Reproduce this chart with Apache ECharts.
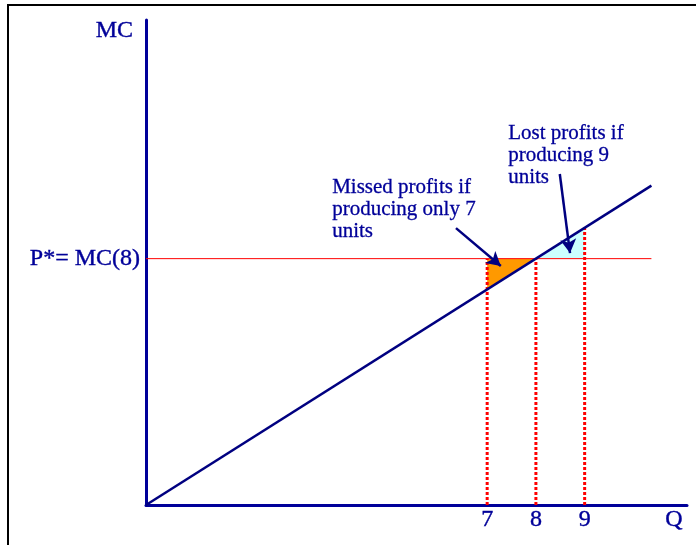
<!DOCTYPE html>
<html>
<head>
<meta charset="utf-8">
<script src="https://cdn.jsdelivr.net/npm/echarts@6/dist/echarts.min.js"></script>
<style>
  html, body { margin: 0; padding: 0; background: #fff; }
  #chart { width: 696px; height: 545px; }
</style>
</head>
<body>
<div id="chart"></div>
<script>
// Data
const qTicks = [7, 8, 9]
const pStar = 8
const mcLine = [[0, 0], [10.37, 10.37]]
const priceLine = [[0, pStar], [10.37, pStar]]
// drop lines: [q, top value]
const drops = [[7, 8], [8, 8], [9, 9]]
// triangles: x1,y1,x2,y2,x3,y3
const missedTri = [7, 8, 8, 8, 7, 7]
const lostTri = [8, 8, 9, 8, 9, 9]
// arrows: [from, to]
const arrows = [
  [[6.36, 8.99], [7.28, 7.76]],
  [[8.49, 10.75], [8.7, 8.18]],
]

const navy = "#000080"
const blue = "#000099"
const serif = "'Liberation Serif', 'DejaVu Serif', serif"

// 文字略微加粗
const thick = { textBorderColor: blue, textBorderWidth: 0.4 }

const triangle = (tri, fill) => ({
  type: "custom",
  data: [tri],
  renderItem: (params, api) => {
    const pts = [0, 2, 4].map((i) => api.coord([api.value(i), api.value(i + 1)]))
    return { type: "polygon", shape: { points: pts }, style: { fill: fill } }
  },
  silent: true,
})

const chart = echarts.init(document.getElementById("chart"))

const option = {
  animation: false,
  grid: { left: 146, right: 9, top: 20, bottom: 40 },
  xAxis: {
    type: "value",
    min: 0,
    max: 11.1,
    interval: 1,
    name: "Q",
    nameLocation: "end",
    nameGap: -13,
    nameTextStyle: {
      fontFamily: serif, fontSize: 24, color: blue, ...thick,
      align: "center", verticalAlign: "top", padding: [3, 0, 0, 0],
    },
    splitLine: { show: false },
    axisTick: { show: false },
    axisLine: { onZero: false, lineStyle: { color: blue, width: 3 } },
    axisLabel: {
      margin: 3,
      fontFamily: serif, fontSize: 24, color: blue, ...thick,
      formatter: (v) => (qTicks.includes(v) ? String(v) : ""),
    },
  },
  yAxis: {
    type: "value",
    min: 0,
    max: 15.75,
    interval: 1,
    name: "MC",
    nameLocation: "end",
    nameGap: -11,
    nameTextStyle: {
      fontFamily: serif, fontSize: 24, color: blue, ...thick,
      align: "right", verticalAlign: "middle", padding: [0, 13, 0, 0],
    },
    splitLine: { show: false },
    axisTick: { show: false },
    axisLine: { onZero: false, lineStyle: { color: blue, width: 3 } },
    axisLabel: {
      margin: 6,
      fontFamily: serif, fontSize: 24, color: blue, ...thick,
      formatter: (v) => (v === pStar ? "P*= MC(8)" : ""),
    },
  },
  graphic: [
    { type: "line", shape: { x1: 7, y1: 5, x2: 696, y2: 5 }, style: { stroke: "#000", lineWidth: 2 } },
    { type: "line", shape: { x1: 8, y1: 5, x2: 8, y2: 545 }, style: { stroke: "#000", lineWidth: 2 } },
    {
      type: "text", left: 332, top: 176,
      style: {
        text: "Missed profits if\nproducing only 7\nunits",
        font: "21px " + serif, fill: blue, lineHeight: 22,
        stroke: blue, lineWidth: 0.3,
      },
    },
    {
      type: "text", left: 508, top: 122,
      style: {
        text: "Lost profits if\nproducing 9\nunits",
        font: "21px " + serif, fill: blue, lineHeight: 22,
        stroke: blue, lineWidth: 0.3,
      },
    },
  ],
  series: [
    triangle(missedTri, "#FF9900"),
    triangle(lostTri, "#CCFFFF"),
    {
      type: "line",
      data: priceLine,
      symbol: "none",
      lineStyle: { color: "#FF0000", width: 1 },
      silent: true,
    },
    ...drops.map(([q, top]) => ({
      type: "line",
      data: [[q, 0], [q, top]],
      symbol: "none",
      lineStyle: { color: "#FF0000", width: 3, type: [3, 2] },
      silent: true,
    })),
    {
      type: "line",
      data: mcLine,
      symbol: "none",
      lineStyle: { color: navy, width: 2.5 },
      silent: true,
      markLine: {
        silent: true,
        symbol: ["none", "arrow"],
        symbolSize: [12, 14],
        label: { show: false },
        lineStyle: { color: navy, width: 2.5, type: "solid" },
        data: arrows.map(([a, b]) => [{ coord: a }, { coord: b }]),
      },
    },
  ],
}

chart.setOption(option)
</script>
</body>
</html>
